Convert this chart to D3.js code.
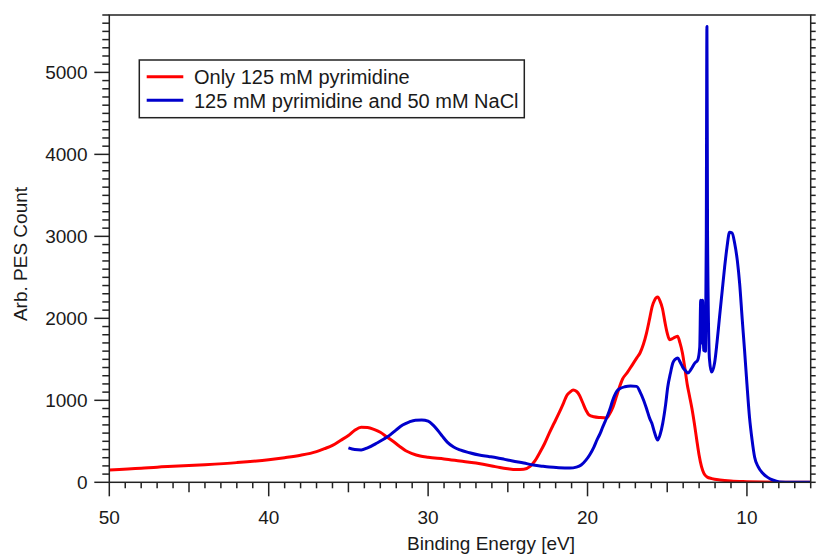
<!DOCTYPE html>
<html>
<head>
<meta charset="utf-8">
<script src="https://cdn.jsdelivr.net/npm/d3@7"></script>
<style>
  html, body { margin: 0; padding: 0; background: #fff; }
  svg { display: block; }
  text { font-family: "Liberation Sans", Arial, sans-serif; fill: #1a1a1a; }
</style>
</head>
<body>
<svg id="chart" width="816" height="554"></svg>
<script>
// ---- data ----
const seriesNames = ["Only 125 mM pyrimidine", "125 mM pyrimidine and 50 mM NaCl"];
const seriesColors = ["#ff0000", "#0000cc"];

const redE = [50, 48, 47, 46, 44, 42, 40, 39, 38, 37, 36.5, 36, 35.5, 35, 34.6, 34.2, 33.8, 33.4, 33, 32.6, 32.2, 31.8, 31.4, 31, 30.5, 30, 29, 28, 27, 26, 25.5, 25, 24.5, 24, 23.6, 23.3, 23, 22.7, 22.4, 22.1, 21.8, 21.5, 21.3, 21.1, 20.9, 20.7, 20.5, 20.3, 20.1, 19.9, 19.6, 19.2, 18.8, 18.6, 18.4, 18.2, 18.0, 17.8, 17.5, 17.2, 16.9, 16.7, 16.5, 16.3, 16.1, 15.95, 15.8, 15.6, 15.45, 15.3, 15.15, 15.0, 14.85, 14.7, 14.5, 14.35, 14.2, 14.05, 13.9, 13.75, 13.6, 13.45, 13.3, 13.15, 13.0, 12.85, 12.7, 12.5, 12.2, 11.7, 11, 10, 9, 8, 6];
const redV = [150, 170, 185, 195, 215, 240, 275, 300, 330, 375, 410, 450, 510, 570, 635, 672, 668, 645, 610, 555, 500, 440, 385, 350, 320, 305, 285, 260, 235, 200, 180, 165, 155, 160, 195, 260, 360, 470, 600, 720, 840, 970, 1060, 1100, 1125, 1110, 1060, 970, 880, 820, 800, 790, 785, 840, 920, 1040, 1160, 1260, 1340, 1430, 1520, 1580, 1680, 1820, 2000, 2140, 2220, 2260, 2210, 2120, 1960, 1820, 1740, 1750, 1770, 1780, 1700, 1580, 1400, 1200, 1050, 900, 720, 520, 330, 190, 110, 65, 45, 28, 15, 8, 4, 2, 0];

const blueE = [35.0, 34.6, 34.2, 33.8, 33.2, 32.8, 32.4, 32, 31.6, 31.2, 30.8, 30.4, 30.0, 29.7, 29.4, 29.1, 28.8, 28.4, 28, 27.4, 26.8, 26.2, 25.7, 25.2, 24.7, 24, 23.4, 22.8, 22.4, 21.8, 21.1, 20.7, 20.4, 20.1, 19.85, 19.6, 19.4, 19.2, 19.05, 18.9, 18.73, 18.55, 18.42, 18.25, 18.1, 17.9, 17.67, 17.3, 16.92, 16.7, 16.5, 16.3, 16.1, 15.97, 15.8, 15.6, 15.45, 15.28, 15.1, 14.97, 14.8, 14.65, 14.5, 14.34, 14.2, 14.03, 13.85, 13.71, 13.5, 13.27, 13.09, 12.96, 12.9, 12.84, 12.78, 12.72, 12.6, 12.55, 12.51, 12.47, 12.35, 12.22, 12.03, 11.88, 11.72, 11.56, 11.4, 11.25, 11.09, 10.93, 10.77, 10.6, 10.46, 10.3, 10.15, 10.0, 9.84, 9.68, 9.52, 9.3, 9.02, 8.7, 8.39, 7.95, 6];
const blueV = [420, 400, 395, 420, 480, 525, 575, 640, 698, 735, 758, 760, 745, 700, 635, 560, 490, 430, 395, 360, 332, 315, 300, 280, 260, 235, 211, 195, 186, 178, 174, 185, 210, 270, 340, 430, 520, 600, 673, 740, 820, 920, 1000, 1080, 1125, 1150, 1165, 1175, 1170, 1100, 1010, 900, 780, 722, 610, 515, 580, 722, 950, 1160, 1330, 1454, 1500, 1515, 1470, 1405, 1360, 1332, 1380, 1454, 1490, 1649, 2222, 1700, 2222, 1612, 1600, 3000, 5560, 3000, 1500, 1344, 1454, 1700, 2014, 2320, 2624, 2870, 3050, 3040, 2915, 2700, 2429, 2000, 1612, 1200, 795, 520, 308, 190, 113, 60, 28, 5, 0];

const xTickLabels = [50, 40, 30, 20, 10];
const yTickLabels = [0, 1000, 2000, 3000, 4000, 5000];

// ---- layout ----
const svg = d3.select("#chart");
const L = 109.3, R = 810.7, T = 15, B = 482.3;

const x = d3.scaleLinear().domain([50, 6]).range([L, R]);
const y = d3.scaleLinear().domain([0, 5700]).range([B, T]);

const series = [
  { name: seriesNames[0], color: seriesColors[0], data: redE.map((e, i) => [e, redV[i]]) },
  { name: seriesNames[1], color: seriesColors[1], data: blueE.map((e, i) => [e, blueV[i]]) }
];

// clip
svg.append("clipPath").attr("id", "plotclip")
  .append("rect").attr("x", L).attr("y", T).attr("width", R - L).attr("height", B - T);

// curves
const line = d3.line().x(d => x(d[0])).y(d => y(d[1])).curve(d3.curveMonotoneX);
const g = svg.append("g").attr("clip-path", "url(#plotclip)");
series.forEach(s => {
  g.append("path").datum(s.data)
    .attr("d", line)
    .attr("fill", "none")
    .attr("stroke", s.color)
    .attr("stroke-width", 3)
    .attr("stroke-linejoin", "round");
});

// frame
const axisColor = "#222";
svg.append("rect").attr("x", L).attr("y", T).attr("width", R - L).attr("height", B - T)
  .attr("fill", "none").attr("stroke", axisColor).attr("stroke-width", 1.5);

// x axis ticks
const xMinor = d3.range(6, 51, 1);
const xa = svg.append("g");
xMinor.forEach(v => {
  const len = (v % 10 === 0) ? 14 : (v % 5 === 0 ? 10 : 6);
  xa.append("line").attr("x1", x(v)).attr("x2", x(v)).attr("y1", B).attr("y2", B + len)
    .attr("stroke", axisColor).attr("stroke-width", 1.5);
});
xTickLabels.forEach(v => {
  xa.append("text").attr("x", x(v)).attr("y", 524).attr("text-anchor", "middle")
    .attr("font-size", 19).text(v);
});

// y axis ticks (left, outward) and right ticks
const yMinor = d3.range(0, 5701, 100);
const ya = svg.append("g");
yMinor.forEach(v => {
  const major = v % 1000 === 0;
  ya.append("line").attr("x1", L).attr("x2", L - (major ? 15 : 7)).attr("y1", y(v)).attr("y2", y(v))
    .attr("stroke", axisColor).attr("stroke-width", 1.5);
  ya.append("line").attr("x1", R).attr("x2", R + 5).attr("y1", y(v)).attr("y2", y(v))
    .attr("stroke", axisColor).attr("stroke-width", 1.5);
});
yTickLabels.forEach(v => {
  ya.append("text").attr("x", 87.5).attr("y", y(v)).attr("dy", "0.36em").attr("text-anchor", "end")
    .attr("font-size", 19).text(v);
});

// axis titles
svg.append("text").attr("x", 491).attr("y", 550).attr("text-anchor", "middle")
  .attr("font-size", 19).text("Binding Energy [eV]");
svg.append("text").attr("transform", "translate(27,254) rotate(-90)").attr("text-anchor", "middle")
  .attr("font-size", 19).text("Arb. PES Count");

// legend
const lg = svg.append("g");
lg.append("rect").attr("x", 139.3).attr("y", 60).attr("width", 385).attr("height", 57.7)
  .attr("fill", "#fff").attr("stroke", axisColor).attr("stroke-width", 1.5);
series.forEach((s, i) => {
  const cy = 76.7 + i * 23.6;
  lg.append("line").attr("x1", 146.7).attr("x2", 183.3).attr("y1", cy).attr("y2", cy)
    .attr("stroke", s.color).attr("stroke-width", 3);
  lg.append("text").attr("x", 194).attr("y", cy + 7.3).attr("font-size", 20).text(s.name);
});
</script>
</body>
</html>
